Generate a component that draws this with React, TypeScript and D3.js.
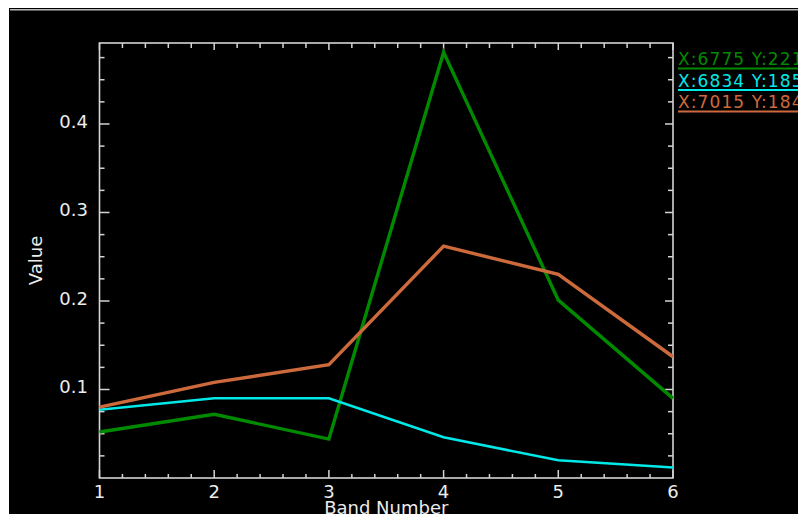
import React from "react";
import * as d3 from "d3";

const bands = [1, 2, 3, 4, 5, 6];
const seriesGreen = [0.052, 0.072, 0.044, 0.481, 0.201, 0.090];
const seriesCyan = [0.077, 0.090, 0.090, 0.046, 0.020, 0.012];
const seriesOrange = [0.080, 0.108, 0.128, 0.262, 0.230, 0.137];
const legendLabels = ["X:6775 Y:2214", "X:6834 Y:1853", "X:7015 Y:1842"];
const seriesColors = ["#008a00", "#00e8e8", "#cd6a3c"];
const yTickValues = [0.1, 0.2, 0.3, 0.4];
const yTickLabels = ["0.1", "0.2", "0.3", "0.4"];
const xTickLabels = ["1", "2", "3", "4", "5", "6"];

const W = 798;
const H = 514;
const left = 99.5;
const right = 673;
const top = 43;
const bottom = 478;

export default function App() {
  const x = d3.scaleLinear().domain([1, 6]).range([left, right]);
  const y = d3.scaleLinear().domain([0, 0.4915]).range([bottom, top]);
  const line = d3
    .line<number>()
    .x((_, i) => x(bands[i]))
    .y((d) => y(d));
  const series = [seriesGreen, seriesCyan, seriesOrange];
  const widths = [3.4, 2.5, 3.4];

  const xMinor = d3.range(1, 6.001, 0.2).filter((v) => Math.abs(v - Math.round(v)) > 0.01);
  const yMinor = d3.range(0.025, 0.49, 0.025).filter((v) => Math.abs(v * 10 - Math.round(v * 10)) > 0.01);
  const axisColor = "#d4d4d4";
  const textColor = "#ececec";
  const font = "'DejaVu Sans', sans-serif";

  return (
    <svg
      width={W}
      height={H}
      style={{ position: "fixed", left: 0, top: 0, background: "#fff" }}
    >
      <rect x={9} y={8} width={W - 9} height={H - 8} fill="#000" />
      <line x1={10} x2={W} y1={9.8} y2={9.8} stroke="#b8b8b8" strokeWidth={1.6} />

      {/* frame */}
      <rect x={left} y={top} width={right - left} height={bottom - top} fill="none" stroke={axisColor} strokeWidth={1.6} />

      {/* x ticks bottom & top */}
      {bands.map((b) => (
        <g key={"xm" + b}>
          <line x1={x(b)} x2={x(b)} y1={bottom} y2={bottom - 8} stroke={axisColor} strokeWidth={1.5} />
          <line x1={x(b)} x2={x(b)} y1={top} y2={top + 7} stroke={axisColor} strokeWidth={1.5} />
        </g>
      ))}
      {xMinor.map((b, i) => (
        <g key={"xn" + i}>
          <line x1={x(b)} x2={x(b)} y1={bottom} y2={bottom - 4} stroke={axisColor} strokeWidth={1.5} />
          <line x1={x(b)} x2={x(b)} y1={top} y2={top + 5} stroke={axisColor} strokeWidth={1.5} />
        </g>
      ))}
      {/* y ticks left & right */}
      {yTickValues.map((v) => (
        <g key={"ym" + v}>
          <line x1={left} x2={left + 10} y1={y(v)} y2={y(v)} stroke={axisColor} strokeWidth={1.5} />
          <line x1={right} x2={right - 8} y1={y(v)} y2={y(v)} stroke={axisColor} strokeWidth={1.5} />
        </g>
      ))}
      {yMinor.map((v, i) => (
        <g key={"yn" + i}>
          <line x1={left} x2={left + 5} y1={y(v)} y2={y(v)} stroke={axisColor} strokeWidth={1.5} />
          <line x1={right} x2={right - 5} y1={y(v)} y2={y(v)} stroke={axisColor} strokeWidth={1.5} />
        </g>
      ))}

      {/* tick labels */}
      {bands.map((b, i) => (
        <text key={"xl" + b} x={x(b)} y={498} fill={textColor} fontSize={18} fontFamily={font} textAnchor="middle">
          {xTickLabels[i]}
        </text>
      ))}
      {yTickValues.map((v, i) => (
        <text key={"yl" + v} x={88} y={y(v) + 4} fill={textColor} fontSize={18} fontFamily={font} textAnchor="end">
          {yTickLabels[i]}
        </text>
      ))}
      <text x={(left + right) / 2} y={514} fill={textColor} fontSize={18} fontFamily={font} textAnchor="middle">
        Band Number
      </text>
      <text
        transform={`translate(42, ${(top + bottom) / 2}) rotate(-90)`}
        fill={textColor}
        fontSize={18}
        fontFamily={font}
        textAnchor="middle"
      >
        Value
      </text>

      {/* series */}
      {series.map((s, i) => (
        <path key={"s" + i} d={line(s) || ""} fill="none" stroke={seriesColors[i]} strokeWidth={widths[i]} strokeLinejoin="miter" />
      ))}

      {/* legend */}
      {legendLabels.map((l, i) => (
        <g key={"lg" + i}>
          <text x={678} y={65 + i * 21.5} fill={seriesColors[i]} fontSize={17} fontFamily={font} letterSpacing={1.1}>
            {l}
          </text>
          <line x1={678} x2={W} y1={68.5 + i * 21.5} y2={68.5 + i * 21.5} stroke={seriesColors[i]} strokeWidth={2} />
        </g>
      ))}
    </svg>
  );
}
